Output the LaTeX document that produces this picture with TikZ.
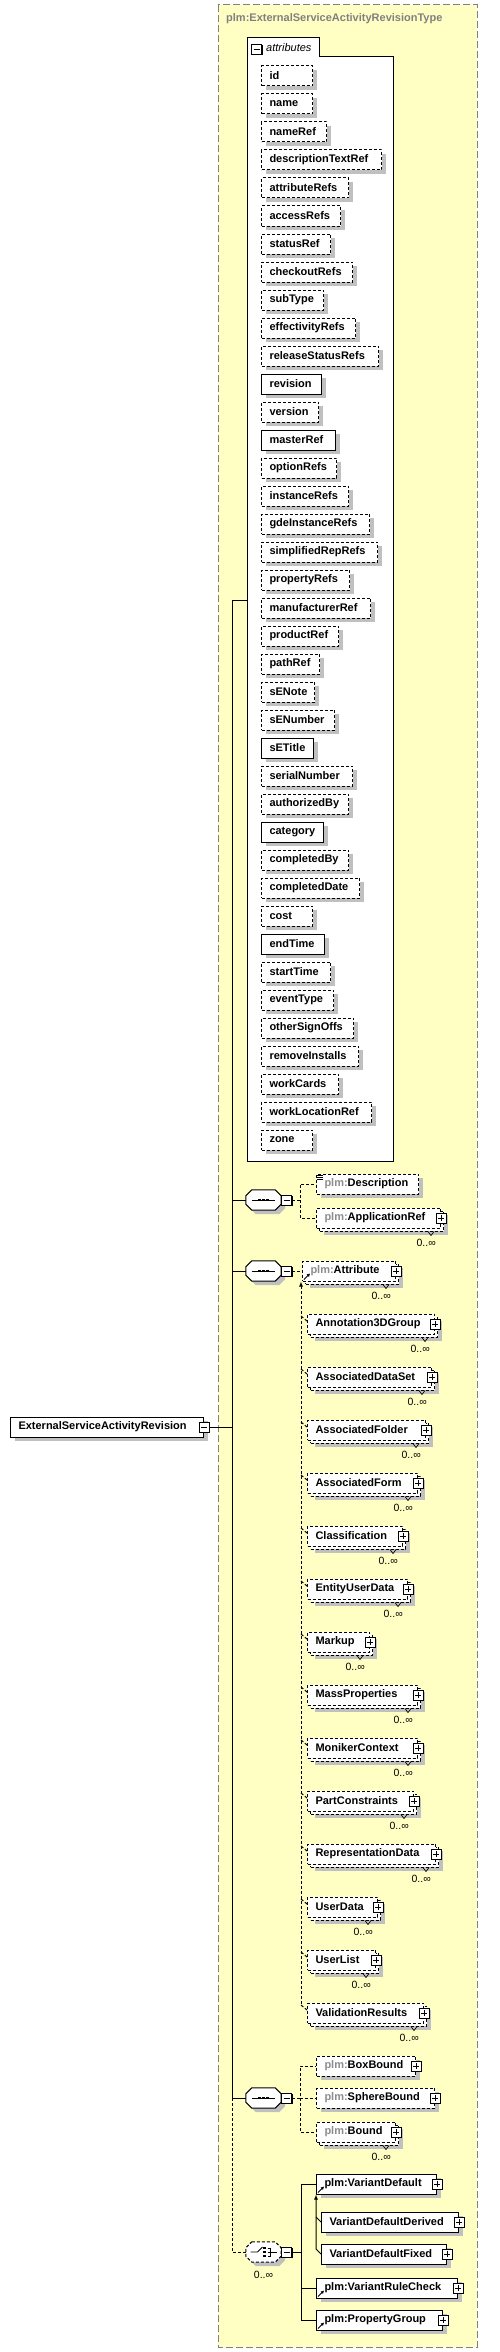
\documentclass[tikz,border=0pt]{standalone}
\usepackage{fontspec}
\setmainfont{Liberation Sans}
\usetikzlibrary{positioning,shadows,arrows.meta}

\definecolor{typebg}{HTML}{FFFFC4}
\definecolor{shade}{HTML}{C0C0C0}
\definecolor{frame}{HTML}{808080}
\definecolor{prefix}{HTML}{8C8C8C}

\newcommand\elfont{\fontsize{11}{13}\selectfont\bfseries\hyphenpenalty=10000 }
\newcommand\occfont{\fontsize{10.5}{12}\selectfont}
\newcommand\pfx{\textcolor{prefix}{plm:}}
% octagon round a compositor node
\newcommand\octagon[2][]{%
  \filldraw[compline, #1] ([xshift=6pt]#2.north west) -- ([xshift=-6pt]#2.north east)
    -- ([yshift=-6pt]#2.north east) -- ([yshift=6pt]#2.south east)
    -- ([xshift=-6pt]#2.south east) -- ([xshift=6pt]#2.south west)
    -- ([yshift=6pt]#2.south west) -- ([yshift=-6pt]#2.north west) -- cycle;}
\newcommand\seqsym[1]{%
  \draw[line width=0.8pt] ([xshift=6pt]#1.west) -- ([xshift=-6pt]#1.east);
  \foreach \d in {-4,0,4}
    \fill ([xshift=\d pt]#1.center) ++(-1.4pt,-1.4pt) rectangle ++(2.8pt,2.8pt);}

\tikzset{
  conn/.style={line width=1pt},
  optconn/.style={line width=1pt, dash pattern=on 3pt off 2pt},
  box/.style={draw, fill=white, line width=1pt, anchor=west, minimum height=20pt,
    inner xsep=8pt, inner ysep=0pt, align=left, font=\elfont},
  req/.style={box},
  opt/.style={box, dash pattern=on 3pt off 2pt},
  shd/.style={drop shadow={shadow xshift=4pt, shadow yshift=-4pt, fill=shade, opacity=1}},
  multi/.style={drop shadow={shadow xshift=7pt, shadow yshift=-7pt, fill=shade, opacity=1},
    general shadow={shadow xshift=3pt, shadow yshift=-3pt, fill=white, draw=black}},
  plusbox/.style={draw, fill=white, line width=0.8pt, minimum size=10pt, inner sep=0pt,
    drop shadow={shadow xshift=1pt, shadow yshift=-1pt, fill=black, opacity=1},
    path picture={\draw[line width=0.8pt]
      ([xshift=2pt]path picture bounding box.west) -- ([xshift=-2pt]path picture bounding box.east)
      ([yshift=-2pt]path picture bounding box.north) -- ([yshift=2pt]path picture bounding box.south);}},
  minusbox/.style={draw, fill=white, line width=0.8pt, minimum size=10pt, inner sep=0pt,
    drop shadow={shadow xshift=1pt, shadow yshift=-1pt, fill=black, opacity=1},
    path picture={\draw[line width=0.8pt]
      ([xshift=2pt]path picture bounding box.west) -- ([xshift=-2pt]path picture bounding box.east);}},
  compositor/.style={rectangle, minimum width=35pt, minimum height=20pt, inner sep=0pt},
  compline/.style={fill=white, line width=1pt, shd},
  occ/.style={font=\occfont, inner sep=0pt},
  occtick/.style={line width=0.7pt},
  refarrow/.style={line width=1pt, -{Latex[length=3pt,width=3.5pt]}}
}

\begin{document}
\begin{tikzpicture}[x=1pt, y=-1pt]
\useasboundingbox (0,0) rectangle (499,2352);

% complex type frame
\filldraw[fill=typebg, draw=frame, line width=1pt, dash pattern=on 7pt off 3pt] (218,5) rectangle (477,2347);
\node[anchor=west, inner sep=0pt, text=frame, font=\elfont] (title) at (226,19) {plm:ExternalServiceActivityRevisionType};

% attributes
\filldraw[fill=white, line width=1pt] (247,38) -- (319,38) -- (319,57) -- (393,57) -- (393,1161) -- (247,1161) -- cycle;
\node[minusbox] (attrm) at (256.5,49.5) {};
\node[anchor=west, inner sep=0pt, font=\fontsize{11}{13}\selectfont\itshape] (attrlbl) at (266,48) {attributes};
\coordinate (attrs) at (247,600);

\foreach \nm/\w/\st [count=\i from 0] in {id/51/opt, name/51/opt, nameRef/65/opt,
    descriptionTextRef/120/opt, attributeRefs/87/opt, accessRefs/79/opt, statusRef/69/opt,
    checkoutRefs/91/opt, subType/62/opt, effectivityRefs/94/opt, releaseStatusRefs/117/opt,
    revision/60/req, version/57/opt, masterRef/74/req, optionRefs/75/opt, instanceRefs/87/opt,
    gdeInstanceRefs/108/opt, simplifiedRepRefs/116/opt, propertyRefs/88/opt,
    manufacturerRef/109/opt, productRef/77/opt, pathRef/58/opt, sENote/53/opt,
    sENumber/73/opt, sETitle/52/req, serialNumber/91/opt, authorizedBy/87/opt,
    category/62/req, completedBy/87/opt, completedDate/98/opt, cost/51/opt, endTime/63/req,
    startTime/69/opt, eventType/72/opt, otherSignOffs/92/opt, removeInstalls/97/opt,
    workCards/77/opt, workLocationRef/110/opt, zone/51/opt}{
  \pgfmathsetmacro\tw{\w-16}
  \node[\st, shd, text width=\tw pt] (at\i) at (261,{76+28*\i}) {\nm};
}

% root element
\node[req, shd, text width=177pt] (root) at (10,1427) {ExternalServiceActivityRevision};
\node[minusbox] (rootm) at (root.east) {};

% compositors
\node[compositor] (seqA) at (263.5,1200) {};
\octagon{seqA} \seqsym{seqA}
\node[minusbox, right=0pt of seqA] (seqAm) {};
\node[compositor] (seqB) at (263.5,1271) {};
\octagon{seqB} \seqsym{seqB}
\node[minusbox, right=0pt of seqB] (seqBm) {};
\node[compositor] (seqC) at (263.5,2098) {};
\octagon{seqC} \seqsym{seqC}
\node[minusbox, right=0pt of seqC] (seqCm) {};
\node[compositor] (choiceA) at (263.5,2252) {};
\octagon[dash pattern=on 3pt off 2pt]{choiceA}
\node[minusbox, right=0pt of choiceA] (choiceAm) {};
\node[occ] (choiceocc) at ([shift={(0,13)}]choiceA.south) {0..∞};
\begin{scope}[shift={(choiceA.center)}, line width=0.8pt]
  \draw (-13,0) -- (-6,0) -- (-1,-5);
  \foreach \d in {-4,0,4}
    \fill (1,\d) ++(-1.2,-1.2) rectangle ++(2.4,2.4);
  \draw (4,-4) -- (7,-4) -- (7,4) -- (4,4);
  \draw (4,0) -- (13,0);
\end{scope}

% trunk
\coordinate (ttop) at (232,600);
\draw[conn] (attrs) -- (ttop) -- (ttop |- seqC.west);
\draw[conn] (rootm.east) -- (rootm.east -| ttop);
\draw[conn] (ttop |- seqA.west) -- (seqA.west);
\draw[conn] (ttop |- seqB.west) -- (seqB.west);
\draw[conn] (ttop |- seqC.west) -- (seqC.west);
\draw[optconn] (ttop |- seqC.west) |- (choiceA.west);

% first sequence
\node[opt, shd, text width=86pt] (desc) at (316,1184) {\pfx Description};
\foreach \d in {2,4,6}
  \draw[line width=0.8pt] ([shift={(1,\d)}]desc.north west) -- ++(6,0);
\node[opt, multi, text width=108pt] (appref) at (316,1218) {\pfx ApplicationRef};
\node[plusbox] (apprefp) at (appref.east) {};
\node[occ, anchor=east] (apprefo) at ([shift={(-5,14)}]appref.south east) {0..∞};
\draw[occtick] ([shift={(-13,3)}]appref.south east) -- ++(3,4) -- ++(3,-4);
\draw[optconn] (seqAm.east) -- ++(8,0) coordinate (seqAj) |- (desc.west);
\draw[optconn] (seqAj) |- (appref.west);

% second sequence: substitution group
\node[opt, multi, text width=77pt] (hd) at (302,1271) {\pfx Attribute};
\node[plusbox] (hdp) at (hd.east) {};
\node[occ, anchor=east] (hdo) at ([shift={(-5,14)}]hd.south east) {0..∞};
\draw[occtick] ([shift={(-13,3)}]hd.south east) -- ++(3,4) -- ++(3,-4);
\draw[refarrow] ([shift={(2,-2)}]hd.south west) -- ++(6,-6);
\draw[optconn] (seqBm.east) -- (hd.west);

\foreach \nm/\w [count=\i from 0] in {Annotation3DGroup/127, AssociatedDataSet/124,
    AssociatedFolder/118, AssociatedForm/110, Classification/95, EntityUserData/100,
    Markup/62, MassProperties/110, MonikerContext/110, PartConstraints/106,
    RepresentationData/128, UserData/70, UserList/68, ValidationResults/116}{
  \pgfmathsetmacro\tw{\w-16}
  \node[opt, multi, text width=\tw pt] (sg\i) at (307,{1324+53*\i}) {\nm};
  \node[plusbox] (sgp\i) at (sg\i.east) {};
  \node[occ, anchor=east] (sgo\i) at ([shift={(-5,14)}]sg\i.south east) {0..∞};
  \draw[occtick] ([shift={(-13,3)}]sg\i.south east) -- ++(3,4) -- ++(3,-4);
  \draw[optconn] ([shift={(-6,-8)}]sg\i.west) -- ([yshift=3pt]sg\i.west);
}
\draw[optconn, {Latex[length=5pt,width=4pt]}-] ([xshift=-1pt]hd.south west) -- ([shift={(-6,-8)}]sg13.west);

% third sequence
\node[opt, shd, text width=83pt] (boxb) at (316,2066) {\pfx BoxBound};
\node[plusbox] (boxbp) at (boxb.east) {};
\node[opt, shd, text width=102pt] (sphb) at (316,2098) {\pfx SphereBound};
\node[plusbox] (sphbp) at (sphb.east) {};
\node[opt, multi, text width=63pt] (bnd) at (316,2132) {\pfx Bound};
\node[plusbox] (bndp) at (bnd.east) {};
\node[occ, anchor=east] (bndo) at ([shift={(-5,14)}]bnd.south east) {0..∞};
\draw[occtick] ([shift={(-13,3)}]bnd.south east) -- ++(3,4) -- ++(3,-4);
\draw[optconn] (seqCm.east) -- ++(8,0) coordinate (seqCj) |- (boxb.west);
\draw[optconn] (seqCj) |- (sphb.west);
\draw[optconn] (seqCj) |- (bnd.west);

% choice
\node[req, shd, text width=104pt] (vdef) at (316,2184) {plm:VariantDefault};
\node[plusbox] (vdefp) at (vdef.east) {};
\draw[refarrow] ([shift={(2,-2)}]vdef.south west) -- ++(6,-6);
\node[req, shd, text width=121pt] (vder) at (321,2222) {VariantDefaultDerived};
\node[plusbox] (vderp) at (vder.east) {};
\node[req, shd, text width=109pt] (vfix) at (321,2254) {VariantDefaultFixed};
\node[plusbox] (vfixp) at (vfix.east) {};
\node[req, shd, text width=125pt] (vrule) at (316,2288) {plm:VariantRuleCheck};
\node[plusbox] (vrulep) at (vrule.east) {};
\draw[refarrow] ([shift={(2,-2)}]vrule.south west) -- ++(6,-6);
\node[req, shd, text width=110pt] (pgroup) at (316,2320) {plm:PropertyGroup};
\node[plusbox] (pgroupp) at (pgroup.east) {};
\draw[refarrow] ([shift={(2,-2)}]pgroup.south west) -- ++(6,-6);

\draw[conn] (choiceAm.east) -- ++(9,0) coordinate (chj) |- (vdef.west);
\draw[conn] (chj) |- (vrule.west);
\draw[conn] (chj) |- (pgroup.west);
\draw[conn, {Latex[length=5pt,width=4pt]}-] (vdef.south west) -- ([yshift=5pt]vdef.south west |- vfix.west) -- (vfix.west);
\draw[conn] ([yshift=5pt]vdef.south west |- vder.west) -- (vder.west);

\end{tikzpicture}
\end{document}
